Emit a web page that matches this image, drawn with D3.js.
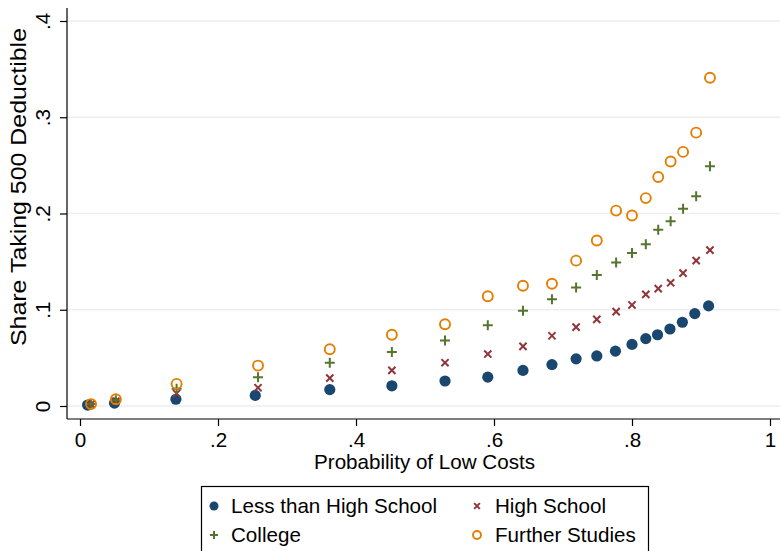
<!DOCTYPE html>
<html>
<head>
<meta charset="utf-8">
<script src="https://cdn.jsdelivr.net/npm/d3@7/dist/d3.min.js"></script>
<style>
  html, body { margin: 0; padding: 0; background: #fff; }
  svg { display: block; font-family: "Liberation Sans", Arial, sans-serif; }
</style>
</head>
<body>
<svg id="chart" width="781" height="551"></svg>
<script>
// ---- Data ----
const xLess = [0.011, 0.050, 0.139, 0.254, 0.362, 0.452, 0.529, 0.591, 0.642, 0.684, 0.719, 0.749, 0.776, 0.800, 0.820, 0.837, 0.855, 0.873, 0.891, 0.911];
const xOther = [0.016, 0.052, 0.140, 0.258, 0.362, 0.452, 0.529, 0.591, 0.642, 0.684, 0.719, 0.749, 0.777, 0.800, 0.820, 0.838, 0.856, 0.874, 0.893, 0.913];
const lessThanHS = [0.001, 0.003, 0.007, 0.011, 0.017, 0.021, 0.026, 0.030, 0.037, 0.043, 0.049, 0.052, 0.057, 0.064, 0.070, 0.074, 0.080, 0.087, 0.096, 0.104];
const highSchool = [0.002, 0.005, 0.013, 0.019, 0.029, 0.037, 0.045, 0.054, 0.062, 0.073, 0.082, 0.090, 0.098, 0.105, 0.116, 0.122, 0.128, 0.138, 0.151, 0.162];
const college = [0.002, 0.006, 0.018, 0.030, 0.045, 0.056, 0.068, 0.084, 0.099, 0.111, 0.123, 0.136, 0.149, 0.159, 0.168, 0.183, 0.192, 0.205, 0.218, 0.249];
const further = [0.002, 0.007, 0.023, 0.042, 0.059, 0.074, 0.085, 0.114, 0.125, 0.127, 0.151, 0.172, 0.203, 0.198, 0.216, 0.238, 0.254, 0.264, 0.284, 0.341];
const seriesNames = ["Less than High School", "High School", "College", "Further Studies"];
const xTicks = [0, 0.2, 0.4, 0.6, 0.8, 1];
const xTickLabels = ["0", ".2", ".4", ".6", ".8", "1"];
const yTicks = [0, 0.1, 0.2, 0.3, 0.4];
const yTickLabels = ["0", ".1", ".2", ".3", ".4"];
const xTitle = "Probability of Low Costs";
const yTitle = "Share Taking 500 Deductible";

// ---- Styles ----
const colors = ["#1a476f", "#90353b", "#55752f", "#e37e00"];
const symbols = ["dot", "x", "plus", "ring"];
const fs = 20.6;

const svg = d3.select("#chart");
const plotLeft = 67, plotRight = 780, plotTop = 8, plotBottom = 419;

const x = d3.scaleLinear().domain([0, 1]).range([80, 770]);
const y = d3.scaleLinear().domain([0, 0.4]).range([406, 21]);

// gridlines
svg.append("g").selectAll("line").data(yTicks).join("line")
  .attr("x1", plotLeft).attr("x2", plotRight)
  .attr("y1", d => y(d)).attr("y2", d => y(d))
  .attr("stroke", "#eeeeee").attr("stroke-width", 1.5);

// axes
const yAxis = svg.append("g").attr("transform", `translate(${plotLeft},0)`)
  .call(d3.axisLeft(y).tickValues(yTicks).tickFormat((d, i) => yTickLabels[i]).tickSize(7).tickSizeOuter(0));
yAxis.select(".domain").remove();
yAxis.append("line").attr("x1", 0).attr("x2", 0).attr("y1", plotTop).attr("y2", plotBottom)
  .attr("stroke", "#000").attr("stroke-width", 1.2);
yAxis.selectAll(".tick line").attr("stroke", "#000").attr("stroke-width", 1.2);
yAxis.selectAll(".tick text")
  .attr("font-size", fs).attr("fill", "#000")
  .attr("transform", "rotate(-90)")
  .attr("x", 0).attr("y", -17).attr("dy", 0)
  .attr("text-anchor", "middle");

const xAxis = svg.append("g").attr("transform", `translate(0,${plotBottom})`)
  .call(d3.axisBottom(x).tickValues(xTicks).tickFormat((d, i) => xTickLabels[i]).tickSize(7).tickSizeOuter(0));
xAxis.select(".domain").remove();
xAxis.append("line").attr("x1", plotLeft).attr("x2", plotRight).attr("y1", 0).attr("y2", 0)
  .attr("stroke", "#000").attr("stroke-width", 1.2);
xAxis.selectAll(".tick line").attr("stroke", "#000").attr("stroke-width", 1.2);
xAxis.selectAll(".tick text")
  .attr("font-size", fs).attr("fill", "#000")
  .attr("y", 28).attr("dy", 0);

// axis titles
svg.append("text").attr("x", 424.5).attr("y", 469)
  .attr("text-anchor", "middle").attr("font-size", fs).attr("fill", "#000").text(xTitle);
svg.append("text").attr("transform", `translate(26,187) rotate(-90)`)
  .attr("text-anchor", "middle").attr("font-size", 22).attr("fill", "#000")
  .attr("textLength", 318).attr("lengthAdjust", "spacingAndGlyphs").text(yTitle);

// marker drawing
function drawMarker(g, sym, color, s) {
  if (sym === "dot") {
    g.append("circle").attr("r", 5.6 * s).attr("fill", color);
  } else if (sym === "ring") {
    g.append("circle").attr("r", 5 * s).attr("fill", "none").attr("stroke", color).attr("stroke-width", 1.9);
  } else if (sym === "plus") {
    const h = 5 * s;
    g.append("path").attr("d", `M${-h},0H${h}M0,${-h}V${h}`).attr("stroke", color).attr("stroke-width", 2).attr("fill", "none");
  } else if (sym === "x") {
    const h = 3.6 * s;
    g.append("path").attr("d", `M${-h},${-h}L${h},${h}M${-h},${h}L${h},${-h}`).attr("stroke", color).attr("stroke-width", 2).attr("fill", "none");
  }
}

const seriesData = [
  { xs: xLess, ys: lessThanHS },
  { xs: xOther, ys: highSchool },
  { xs: xOther, ys: college },
  { xs: xOther, ys: further }
];

seriesData.forEach((s, k) => {
  const pts = s.ys.map((v, i) => ({ x: s.xs[i], y: v }));
  svg.append("g").selectAll("g").data(pts).join("g")
    .attr("transform", d => `translate(${x(d.x)},${y(d.y)})`)
    .each(function () { drawMarker(d3.select(this), symbols[k], colors[k], 1); });
});

// legend
const legend = svg.append("g");
legend.append("rect").attr("x", 201.5).attr("y", 486.5).attr("width", 447).attr("height", 70)
  .attr("fill", "#fff").attr("stroke", "#000").attr("stroke-width", 1.2);
const legendPos = [
  { mx: 214, tx: 231, y: 506 },
  { mx: 477, tx: 495, y: 506 },
  { mx: 214, tx: 231, y: 535 },
  { mx: 477, tx: 495, y: 535 }
];
seriesNames.forEach((name, k) => {
  const p = legendPos[k];
  const g = legend.append("g").attr("transform", `translate(${p.mx},${p.y})`);
  drawMarker(g, symbols[k], colors[k], 0.8);
  legend.append("text").attr("x", p.tx).attr("y", p.y + 7)
    .attr("font-size", fs).attr("fill", "#000").text(name);
});
</script>
</body>
</html>
